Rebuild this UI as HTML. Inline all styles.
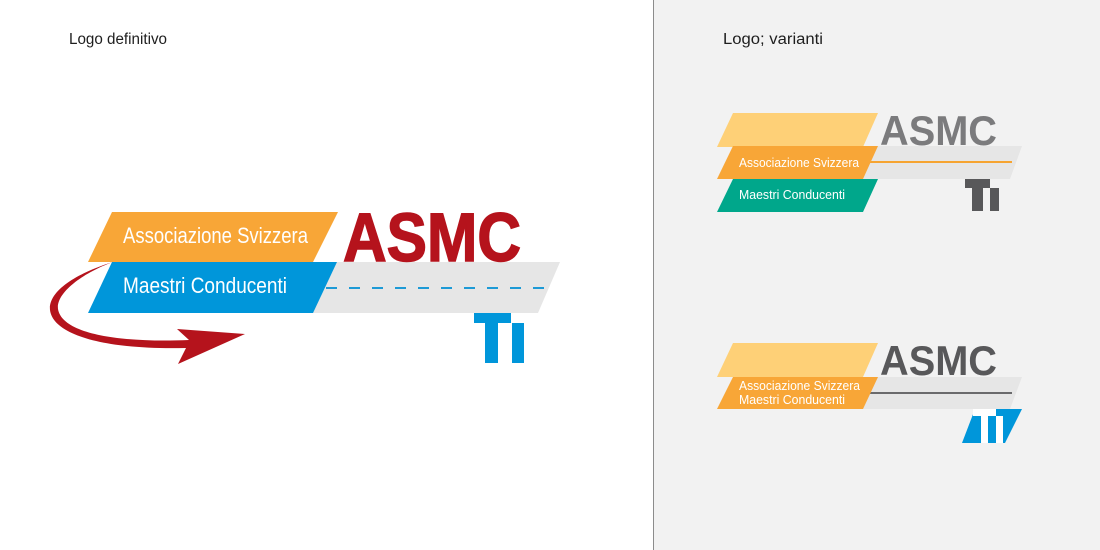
<!DOCTYPE html>
<html>
<head>
<meta charset="utf-8">
<style>
html,body{margin:0;padding:0;width:1100px;height:550px;overflow:hidden;background:#fff;}
svg{display:block;}
text{font-family:"Liberation Sans",Arial,sans-serif;}
</style>
</head>
<body>
<svg width="1100" height="550" viewBox="0 0 1100 550" xmlns="http://www.w3.org/2000/svg">
  <!-- backgrounds -->
  <rect x="0" y="0" width="1100" height="550" fill="#ffffff"/>
  <rect x="653" y="0" width="447" height="550" fill="#f2f2f2"/>
  <rect x="653" y="0" width="1" height="550" fill="#8c8c8c"/>

  <!-- headings -->
  <text x="69" y="44" font-size="15.5" fill="#1e1e1e" textLength="98" lengthAdjust="spacingAndGlyphs">Logo definitivo</text>
  <text x="723" y="44" font-size="15.5" fill="#1e1e1e" textLength="100" lengthAdjust="spacingAndGlyphs">Logo; varianti</text>

  <!-- ===== Main logo ===== -->
  <polygon points="330,262 560,262 538,313 310,313" fill="#e6e6e6"/>
  <line x1="326" y1="288" x2="548" y2="288" stroke="#1d9ad6" stroke-width="2" stroke-dasharray="11,12"/>
  <polygon points="112,212 338,212 313,262 88,262" fill="#f8a637"/>
  <polygon points="112,262 337,262 313,313 88,313" fill="#0096da"/>
  <text x="123" y="243" font-size="22" fill="#ffffff" textLength="185" lengthAdjust="spacingAndGlyphs">Associazione Svizzera</text>
  <text x="123" y="293" font-size="22" fill="#ffffff" textLength="164" lengthAdjust="spacingAndGlyphs">Maestri Conducenti</text>
  <text x="343" y="261" font-size="69" font-weight="bold" fill="#b5131c" stroke="#b5131c" stroke-width="1.5" textLength="178" lengthAdjust="spacingAndGlyphs">ASMC</text>
  <rect x="474" y="313" width="37" height="10" fill="#0096da"/>
  <rect x="485" y="313" width="13" height="50" fill="#0096da"/>
  <rect x="512" y="323" width="12" height="40" fill="#0096da"/>
  <path d="M113,262 C80,272 48,290 50,310 C53,335 105,350 186,348 L178,364 L245,334 L177,329 L189,340 C120,343 62,334 58,309 C56,292 85,272 113,262 Z" fill="#b5131c"/>

  <!-- ===== Variant 1 ===== -->
  <polygon points="870,146 1022,146 1010,179 860,179" fill="#e6e6e6"/>
  <rect x="868" y="161" width="144" height="2" fill="#f6a431"/>
  <polygon points="733,113 878,113 863,147 717,147" fill="#fed077"/>
  <polygon points="733,146 878,146 863,179 717,179" fill="#f8a637"/>
  <polygon points="733,179 878,179 863,212 717,212" fill="#00a78b"/>
  <text x="739" y="167" font-size="12.5" fill="#ffffff" textLength="120" lengthAdjust="spacingAndGlyphs">Associazione Svizzera</text>
  <text x="739" y="199" font-size="12.5" fill="#ffffff" textLength="106" lengthAdjust="spacingAndGlyphs">Maestri Conducenti</text>
  <text x="880" y="145" font-size="42" font-weight="bold" fill="#7b7b7d" textLength="117" lengthAdjust="spacingAndGlyphs">ASMC</text>
  <rect x="965" y="179" width="25" height="9" fill="#58585a"/>
  <rect x="972" y="179" width="11" height="32" fill="#58585a"/>
  <rect x="990" y="188" width="9" height="23" fill="#58585a"/>

  <!-- ===== Variant 2 ===== -->
  <polygon points="870,377 1022,377 1010,409 860,409" fill="#e6e6e6"/>
  <rect x="868" y="392" width="144" height="2" fill="#6a6a6c"/>
  <polygon points="733,343 878,343 863,377 717,377" fill="#fed077"/>
  <polygon points="733,377 878,377 863,409 717,409" fill="#f8a637"/>
  <text x="739" y="390" font-size="12.5" fill="#ffffff" textLength="121" lengthAdjust="spacingAndGlyphs">Associazione Svizzera</text>
  <text x="739" y="404" font-size="12.5" fill="#ffffff" textLength="106" lengthAdjust="spacingAndGlyphs">Maestri Conducenti</text>
  <text x="880" y="375" font-size="42" font-weight="bold" fill="#58585a" textLength="117" lengthAdjust="spacingAndGlyphs">ASMC</text>
  <polygon points="975,409 1022,409 1005,443 962,443" fill="#0096da"/>
  <rect x="973" y="409" width="23" height="7" fill="#ffffff"/>
  <rect x="981" y="409" width="7" height="34" fill="#ffffff"/>
  <rect x="996" y="416" width="7" height="27" fill="#ffffff"/>
</svg>
</body>
</html>
